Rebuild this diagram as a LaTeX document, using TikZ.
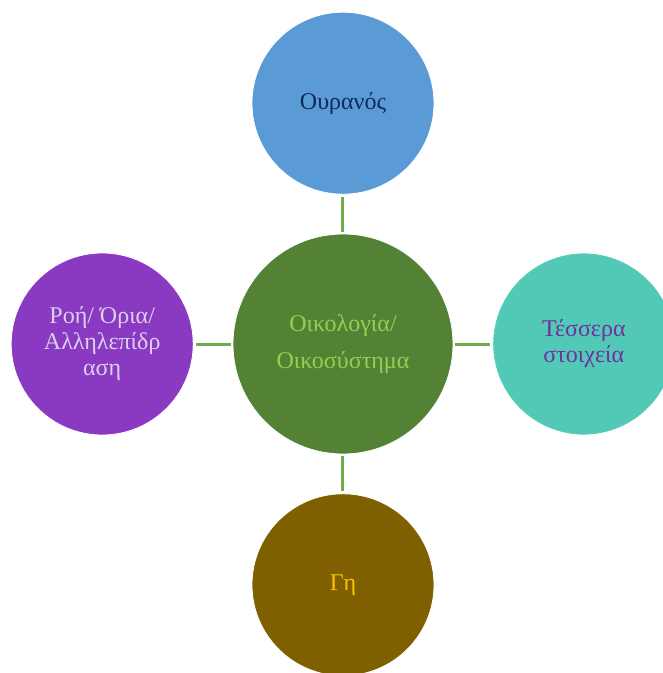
\documentclass[tikz,border=0pt]{standalone}
\usepackage{fontspec}
\setmainfont{Liberation Serif}
\usetikzlibrary{positioning}

\definecolor{skyfill}{HTML}{5B9BD5}
\definecolor{skytext}{HTML}{0E2A5E}
\definecolor{ecofill}{HTML}{548235}
\definecolor{ecotext}{HTML}{92D050}
\definecolor{elemfill}{HTML}{52C9B7}
\definecolor{elemtext}{HTML}{7030A0}
\definecolor{flowfill}{HTML}{8939C2}
\definecolor{flowtext}{HTML}{DDD0EC}
\definecolor{earthfill}{HTML}{7F6000}
\definecolor{earthtext}{HTML}{FFC000}
\definecolor{linkgreen}{HTML}{70AD47}

\begin{document}
\begin{tikzpicture}[
                        node distance=39pt,
                        bubble/.style={circle, draw=white, line width=0.8pt, minimum size=182pt,
                                       inner sep=0pt, align=center, font=\fontsize{24}{26}\selectfont},
                        link/.style={draw=linkgreen, line width=3pt, shorten <=2pt, shorten >=2pt}
                    ]
                    \useasboundingbox (-343pt,-329pt) rectangle (320pt,344pt);
                    % Circles
                    \node [bubble, minimum size=220pt, fill=ecofill, text=ecotext,
                           font=\fontsize{24}{37}\selectfont] (eco) at (0,0) {Οικολογία/\\Οικοσύστημα};
                    \node [bubble, fill=skyfill, text=skytext, above=of eco] (sky) {Ουρανός};
                    \node [bubble, fill=elemfill, text=elemtext, right=of eco] (elem) {Τέσσερα\\στοιχεία};
                    \node [bubble, fill=flowfill, text=flowtext, left=of eco] (flow) {Ροή/ Όρια/\\Αλληλεπίδρ\\αση};
                    \node [bubble, fill=earthfill, text=earthtext, below=of eco] (earth) {Γη};

                    % Connections
                    \draw [link] (eco) -- (sky);
                    \draw [link] (eco) -- (elem);
                    \draw [link] (eco) -- (flow);
                    \draw [link] (eco) -- (earth);
                \end{tikzpicture}
\end{document}
